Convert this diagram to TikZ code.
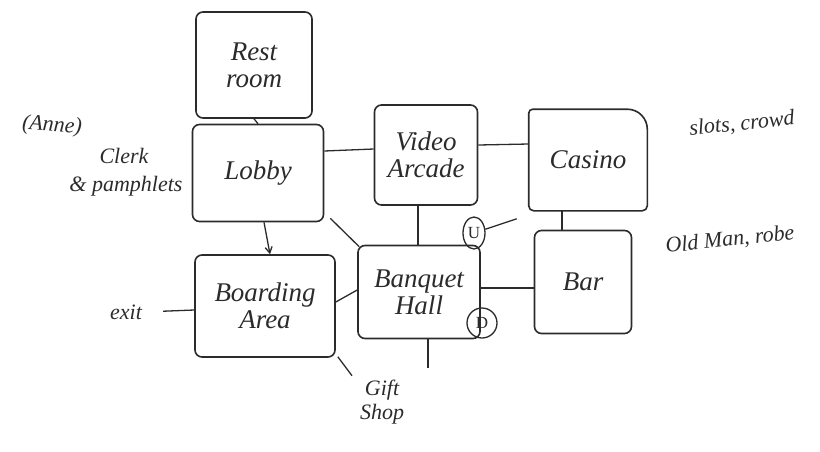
\documentclass[tikz,border=0pt]{standalone}
\usepackage{fontspec}
\setmainfont{Liberation Serif}
\usetikzlibrary{arrows.meta,shapes.geometric}
\definecolor{ink}{HTML}{2B2B2B}
\tikzset{
  room/.style={draw=ink, line width=1.6pt, rounded corners=7pt, align=center,
    text=ink, font=\itshape\fontsize{27}{27}\selectfont, inner sep=0pt},
  link/.style={draw=ink, line width=1.3pt},
  note/.style={text=ink, font=\itshape\fontsize{22}{24}\selectfont, align=left, inner sep=1pt},
  stair/.style={draw=ink, line width=1.3pt, ellipse, inner sep=0pt, text=ink,
    font=\fontsize{17}{17}\selectfont}
}
\begin{document}
\begin{tikzpicture}[x=1pt,y=-1pt]
\useasboundingbox (0,0) rectangle (820,451);
% rooms
\node[room, minimum width=116pt, minimum height=106pt] (rest) at (254,65) {Rest\\room};
\node[room, minimum width=131pt, minimum height=97pt] (lobby) at (258,173) {Lobby};
\node[room, minimum width=103pt, minimum height=100pt] (arcade) at (426,155) {Video\\Arcade};
\node[room, draw=none, minimum width=117pt, minimum height=100pt] (casino) at (588,160) {Casino};
\draw[draw=ink, line width=1.6pt] (casino.south west) [rounded corners=4pt] -- (casino.north west)
  [rounded corners=20pt] -- (casino.north east) [rounded corners=5pt] -- (casino.south east) -- cycle;
\node[room, minimum width=97pt, minimum height=103pt] (bar) at (583,282) {Bar};
\node[room, minimum width=122pt, minimum height=93pt] (hall) at (419,292) {Banquet\\Hall};
\node[room, minimum width=140pt, minimum height=102pt] (board) at (265,306) {Boarding\\Area};
% stairs
\node[stair, minimum width=22pt, minimum height=32pt] (up) at (474,233) {U};
\node[stair, minimum width=30pt, minimum height=30pt] (down) at (482,323) {D};
% notes
\node[note, rotate=-4] (anne) at (52,126) {(Anne)};
\node[note] (clerk) at (124,156) {Clerk};
\node[note] (pamph) at (126,186) {\& pamphlets};
\node[note, rotate=6] (slots) at (742,124) {slots, crowd};
\node[note, rotate=6] (oldman) at (730,240) {Old Man, robe};
\node[note] (exit) at (126,312) {exit};
\node[note, align=center] (gift) at (382,402) {Gift\\Shop};
% connectors
\draw[link] (rest.south) -- (lobby.north);
\draw[link] ([yshift=22pt]lobby.east) -- ([yshift=6pt]arcade.west);
\draw[link] ([yshift=10pt]arcade.east) -- ([yshift=16pt]casino.west);
\draw[link] ([xshift=-26pt]casino.south) -- ([xshift=-21pt]bar.north);
\draw[link, -{Straight Barb[length=6pt,width=7pt]}] ([xshift=6pt]lobby.south) -- ([xshift=5pt]board.north);
\draw[link] ([xshift=-8pt]arcade.south) -- ([xshift=-1pt]hall.north);
\draw[link] ([xshift=6pt,yshift=4pt]lobby.south east) -- ([xshift=2pt,yshift=-2pt]hall.north west);
\draw[link] ([xshift=-12pt,yshift=-8pt]casino.south west) -- (up);
\draw[link] ([yshift=4pt]hall.east) -- ([yshift=-6pt]bar.west);
\draw[link] ([yshift=4pt]board.east) -- ([yshift=2pt]hall.west);
\draw[link, shorten <=20pt] (exit.east) -- ([yshift=-4pt]board.west);
\draw[link] ([xshift=2pt,yshift=1pt]board.south east) -- ([xshift=-30pt,yshift=3pt]gift.north);
\draw[link] ([xshift=9pt]hall.south) -- ([xshift=46pt,yshift=11pt]gift.north);
\end{tikzpicture}
\end{document}
